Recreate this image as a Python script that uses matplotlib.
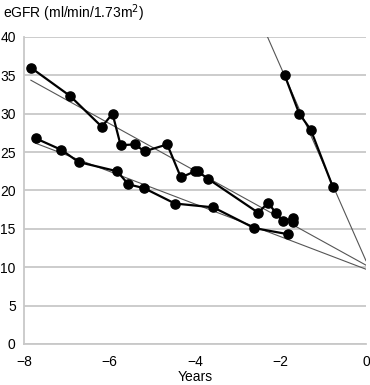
import numpy as np
import matplotlib
matplotlib.use("Agg")
import matplotlib.pyplot as plt

plt.rcParams['font.family'] = ['Liberation Sans', 'DejaVu Sans']

# patient A (long, irregular decline)
a_years = [-7.84, -6.92, -6.18, -5.93, -5.74, -5.41, -5.18, -4.65, -4.33,
           -4.00, -3.94, -3.69, -2.52, -2.29, -2.11, -1.95, -1.70, -1.70]
a_egfr  = [36.0, 32.3, 28.3, 30.0, 25.9, 26.0, 25.1, 26.0, 21.7,
           22.5, 22.5, 21.5, 17.1, 18.4, 17.1, 16.0, 16.4, 15.9]
# patient B (slow decline)
b_years = [-7.73, -7.13, -6.72, -5.82, -5.56, -5.19, -4.47, -3.57, -2.61, -1.82]
b_egfr  = [26.8, 25.3, 23.7, 22.5, 20.8, 20.3, 18.3, 17.8, 15.1, 14.3]
# patient C (rapid decline)
c_years = [-1.90, -1.56, -1.29, -0.77]
c_egfr  = [35.0, 30.0, 27.9, 20.4]

# (years, eGFR, extend trend up past the top of the axes?)
series = [(a_years, a_egfr, False), (b_years, b_egfr, False), (c_years, c_egfr, True)]

fig = plt.figure(figsize=(3.70, 3.85), dpi=100)
ax = fig.add_axes([0.065, 0.1065, 0.924, 0.7975])

for xs, ys, extend_up in series:
    # linear trend extrapolated to year 0
    slope, icpt = np.polyfit(xs, ys, 1)
    x_start = (45 - icpt) / slope if extend_up else xs[0]
    xt = np.array([x_start, 0.0])
    ax.plot(xt, slope * xt + icpt, color='#555555', lw=0.8, zorder=2)
    ax.plot(xs, ys, color='black', lw=1.6, marker='o', ms=6.6, zorder=3)

ax.set_xlim(-8, 0)
ax.set_ylim(0, 40)
ax.set_xticks([-8, -6, -4, -2, 0])
ax.set_yticks(range(0, 41, 5))
ax.yaxis.grid(True, color='#c8c8c8', lw=1.3)
ax.set_axisbelow(True)
for s in ('top', 'right'):
    ax.spines[s].set_visible(False)
for s in ('left', 'bottom'):
    ax.spines[s].set_color('#c8c8c8')
    ax.spines[s].set_linewidth(1.3)
ax.tick_params(length=0, labelsize=10)
ax.tick_params(axis='y', pad=6)
ax.tick_params(axis='x', pad=8)
ax.set_xlabel('Years', fontsize=10, labelpad=1)
fig.text(0.008, 0.965, 'eGFR (ml/min/1.73m$^2$)', fontsize=10, va='center', ha='left')

fig.savefig('out.png', dpi=100)
